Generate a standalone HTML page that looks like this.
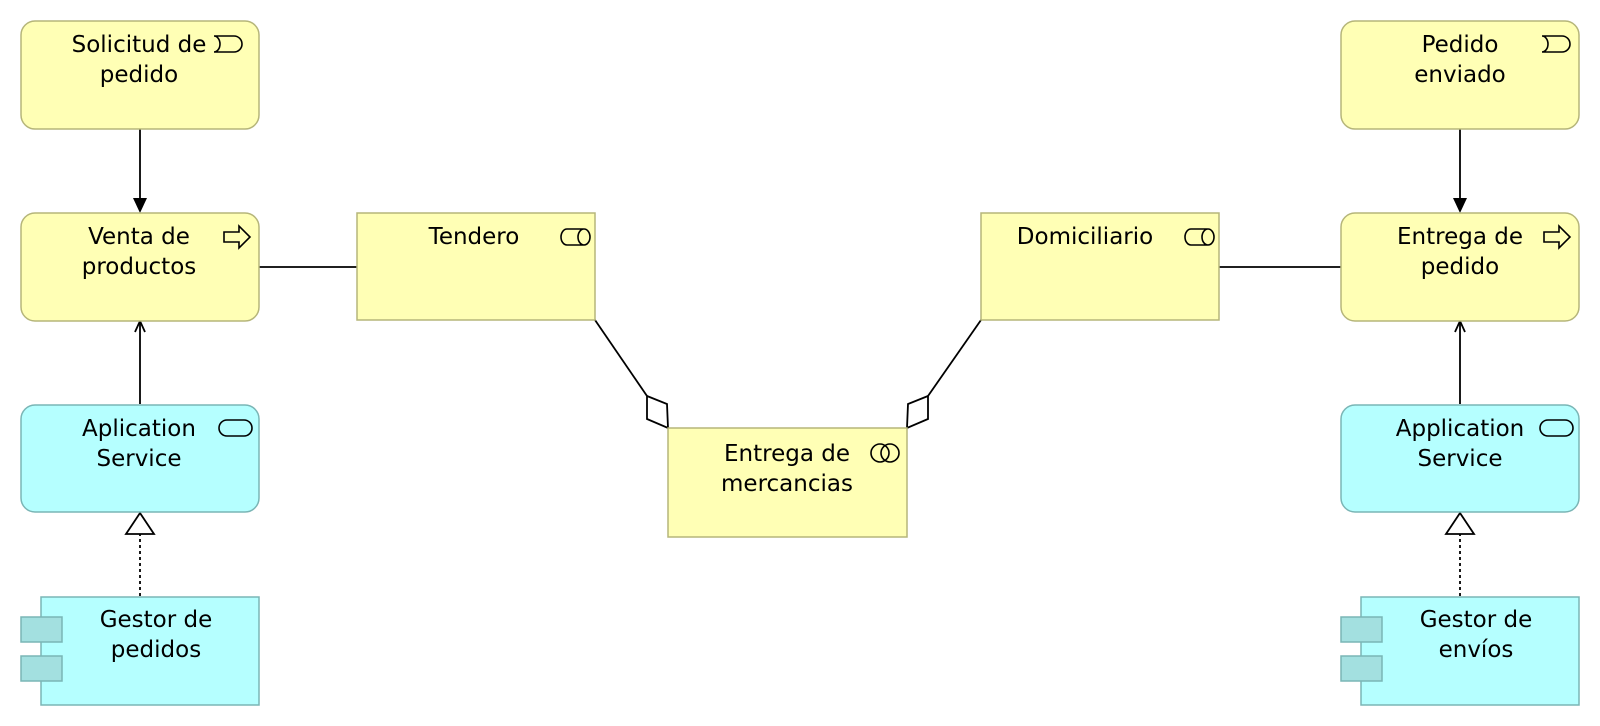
<!DOCTYPE html>
<html><head><meta charset="utf-8"><style>
html,body{margin:0;padding:0;background:#fff;}
svg{display:block;}
text{font-family:"DejaVu Sans","Liberation Sans",sans-serif;font-size:23px;fill:#000;text-anchor:middle;}
.y{fill:#ffffb5;stroke:#b5b57a;stroke-width:1.5;}
.c{fill:#b5ffff;stroke:#7ab5b5;stroke-width:1.5;}
.ic{fill:none;stroke:#000;stroke-width:1.6;}
.ln{stroke:#000;stroke-width:1.8;fill:none;}
</style></head><body>
<svg width="1600" height="726" viewBox="0 0 1600 726" xmlns="http://www.w3.org/2000/svg">
<!-- connectors -->
<line class="ln" x1="140" y1="129" x2="140" y2="200"/>
<polygon points="133,198 147,198 140,213" fill="#000"/>
<line class="ln" x1="1460" y1="129" x2="1460" y2="200"/>
<polygon points="1453,198 1467,198 1460,213" fill="#000"/>
<line class="ln" x1="140" y1="404" x2="140" y2="321"/>
<polyline class="ln" points="135,332 140,321 145,332"/>
<line class="ln" x1="1460" y1="404" x2="1460" y2="321"/>
<polyline class="ln" points="1455,332 1460,321 1465,332"/>
<line class="ln" x1="140" y1="596" x2="140" y2="534" stroke-dasharray="3,3"/>
<polygon class="ln" points="140,513 126,534 154,534" fill="#fff"/>
<line class="ln" x1="1460" y1="596" x2="1460" y2="534" stroke-dasharray="3,3"/>
<polygon class="ln" points="1460,513 1446,534 1474,534" fill="#fff"/>
<line class="ln" x1="259" y1="267" x2="357" y2="267"/>
<line class="ln" x1="1219" y1="267" x2="1341" y2="267"/>
<line class="ln" x1="595" y1="320" x2="647" y2="396"/>
<polygon class="ln" points="668,428 667,404 647,396 647,419" fill="#fff"/>
<line class="ln" x1="981" y1="320" x2="928" y2="396"/>
<polygon class="ln" points="907,428 908,404 928,396 928,419" fill="#fff"/>

<!-- Solicitud -->
<rect class="y" x="21" y="21" width="238" height="108" rx="14"/>
<text x="139" y="52">Solicitud de</text><text x="139" y="82">pedido</text>
<path class="ic" d="M214,36 h20 a8,8 0 0 1 0,16 h-20 a6,8 0 0 0 0,-16 z"/>
<!-- Pedido enviado -->
<rect class="y" x="1341" y="21" width="238" height="108" rx="14"/>
<text x="1460" y="52">Pedido</text><text x="1460" y="82">enviado</text>
<path class="ic" d="M1542,36 h20 a8,8 0 0 1 0,16 h-20 a6,8 0 0 0 0,-16 z"/>
<!-- Venta -->
<rect class="y" x="21" y="213" width="238" height="108" rx="14"/>
<text x="139" y="244">Venta de</text><text x="139" y="274">productos</text>
<path class="ic" d="M224,232 h15 v-6 l11,11 l-11,11 v-6 h-15 z"/>
<!-- Entrega de pedido -->
<rect class="y" x="1341" y="213" width="238" height="108" rx="14"/>
<text x="1460" y="244">Entrega de</text><text x="1460" y="274">pedido</text>
<path class="ic" d="M1544,232 h15 v-6 l11,11 l-11,11 v-6 h-15 z"/>
<!-- Tendero -->
<rect class="y" x="357" y="213" width="238" height="107"/>
<text x="474" y="244">Tendero</text>
<path class="ic" d="M567,229 h17 a6,8 0 0 1 0,16 h-17 a6,8 0 0 1 0,-16 z M584,229 a6,8 0 0 0 0,16"/>
<!-- Domiciliario -->
<rect class="y" x="981" y="213" width="238" height="107"/>
<text x="1085" y="244">Domiciliario</text>
<path class="ic" d="M1191,229 h17 a6,8 0 0 1 0,16 h-17 a6,8 0 0 1 0,-16 z M1208,229 a6,8 0 0 0 0,16"/>
<!-- Entrega de mercancias -->
<rect class="y" x="668" y="428" width="239" height="109"/>
<text x="787" y="461">Entrega de</text><text x="787" y="491">mercancias</text>
<circle class="ic" cx="880" cy="453" r="9"/><circle class="ic" cx="890" cy="453" r="9"/>
<!-- App services -->
<rect class="c" x="21" y="405" width="238" height="107" rx="14"/>
<text x="139" y="436">Aplication</text><text x="139" y="466">Service</text>
<rect class="ic" x="219" y="420" width="33" height="16" rx="8"/>
<rect class="c" x="1341" y="405" width="238" height="107" rx="14"/>
<text x="1460" y="436">Application</text><text x="1460" y="466">Service</text>
<rect class="ic" x="1540" y="420" width="33" height="16" rx="8"/>
<!-- Components -->
<rect class="c" x="41" y="597" width="218" height="108"/>
<rect x="21" y="617" width="41" height="25" fill="#a3e0e0" stroke="#7ab5b5" stroke-width="1.5"/>
<rect x="21" y="656" width="41" height="25" fill="#a3e0e0" stroke="#7ab5b5" stroke-width="1.5"/>
<text x="156" y="627">Gestor de</text><text x="156" y="657">pedidos</text>
<rect class="c" x="1361" y="597" width="218" height="108"/>
<rect x="1341" y="617" width="41" height="25" fill="#a3e0e0" stroke="#7ab5b5" stroke-width="1.5"/>
<rect x="1341" y="656" width="41" height="25" fill="#a3e0e0" stroke="#7ab5b5" stroke-width="1.5"/>
<text x="1476" y="627">Gestor de</text><text x="1476" y="657">envíos</text>
</svg>
</body></html>
